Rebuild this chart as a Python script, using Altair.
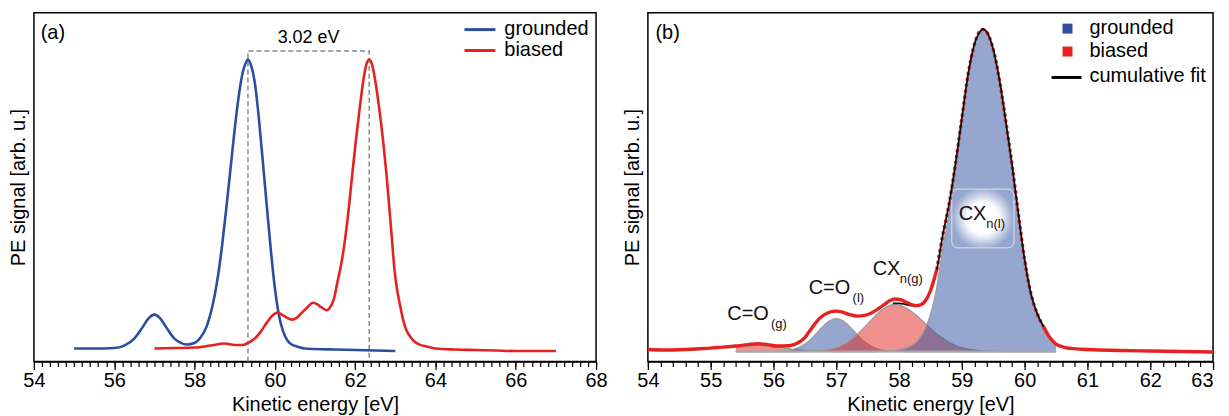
import altair as alt
import pandas as pd

BLUE = "#2b4f9e"
RED = "#e42320"
FONT = "Liberation Sans"

# ---------------- panel (a) data ----------------
ground_E = [55.0, 55.5, 56.0, 56.25, 56.5, 56.7, 56.85, 57.0, 57.15, 57.3, 57.5, 57.65, 57.8, 58.0, 58.15,
            58.3, 58.4, 58.5, 58.6, 58.7, 58.8, 58.9, 59.0, 59.1, 59.2, 59.27, 59.33, 59.4, 59.5, 59.6,
            59.7, 59.8, 59.9, 60.0, 60.1, 60.2, 60.3, 60.4, 60.55, 60.75, 61.0, 61.5, 62.0, 62.5, 63.0]
ground_S = [13, 13, 13.5, 16, 23, 34, 43, 47, 43, 34, 23, 19, 17, 18.5, 24,
            35, 48, 66, 90, 121, 157, 195, 233, 266, 290, 299, 303, 298, 280, 245,
            201, 156, 112, 74, 47, 31, 22, 17.5, 15, 13, 12.5, 12, 11.5, 11, 10.5]
bias_E = [57.0, 57.5, 58.0, 58.4, 58.75, 59.0, 59.2, 59.35, 59.5, 59.65, 59.8, 59.95, 60.06, 60.2, 60.3,
          60.43, 60.55, 60.65, 60.8, 60.95, 61.05, 61.15, 61.3, 61.4, 61.48, 61.55, 61.65, 61.75, 61.85, 61.92,
          62.02, 62.11, 62.2, 62.28, 62.35, 62.42, 62.5, 62.6, 62.7, 62.78, 62.85, 62.92, 62.98, 63.05, 63.12,
          63.2, 63.28, 63.37, 63.45, 63.6, 63.78, 64.0, 64.5, 65.0, 65.5, 66.0, 66.5, 67.0]
bias_S = [13, 13.5, 14, 16, 18, 16.5, 16.5, 19, 23, 30, 39, 46.5, 49, 46.5, 44,
          42, 44, 48, 54, 59, 57.5, 54.5, 51.5, 56, 64, 78, 97, 123, 157, 185,
          222, 253, 281, 298, 303, 298, 282, 254, 220, 188, 155, 121, 92, 71, 56,
          41, 31, 25, 21, 17, 15, 13, 12, 11.5, 11, 10.5, 10.5, 10.5]
peak_ground = 59.33
peak_biased = 62.35
shift_text = "3.02 eV"
shift_level = 311.5

# ---------------- panel (b) data ----------------
data_E = [54.0, 54.3, 54.6, 54.9, 55.1, 55.4, 55.6, 55.75, 55.9, 56.05, 56.25, 56.4, 56.5, 56.57, 56.65,
          56.73, 56.86, 56.99, 57.1, 57.2, 57.34, 57.45, 57.55, 57.65, 57.75, 57.85, 57.93, 58.02, 58.11, 58.2,
          58.27, 58.35, 58.42, 58.5, 58.6, 58.7, 58.8, 58.9, 59.0, 59.1, 59.2, 59.28, 59.33, 59.4, 59.5,
          59.6, 59.7, 59.8, 59.9, 60.0, 60.1, 60.2, 60.3, 60.4, 60.5, 60.65, 60.82, 61.0, 61.2, 61.5,
          62.0, 62.5, 63.0]
data_S = [12, 11.5, 12, 13, 14, 15.5, 17, 17.8, 17, 15.5, 15.8, 19, 24, 30, 37,
          43, 48.7, 50.5, 49.5, 47.3, 45.5, 46.2, 48.5, 52, 56.5, 61, 62.7, 62, 59.5, 57,
          56, 57, 61, 71, 92, 128, 159, 199, 244, 288, 318, 331, 333, 330, 313,
          282, 241, 197, 148, 102, 68, 48, 35, 24, 17.5, 14, 12.7, 12, 11.5, 11,
          10.5, 10, 9.5]

fit_E = [55.4, 55.5, 55.6, 55.7, 55.8, 55.9, 56.0, 56.1, 56.2, 56.3, 56.4, 56.5, 56.6, 56.7, 56.8, 56.9,
         57.0, 57.1, 57.2, 57.3, 57.4, 57.5, 57.6, 57.7, 57.8, 57.9, 58.0, 58.1, 58.2, 58.3, 58.4, 58.5,
         58.6, 58.7, 58.8, 58.9, 59.0, 59.1, 59.2, 59.3, 59.33,
         59.4, 59.5, 59.6, 59.7, 59.8, 59.9, 60.0, 60.1, 60.2, 60.3, 60.4, 60.5]
comp_CO_g = [4.1, 4.9, 5.6, 5.95, 5.95, 5.6, 4.9, 4.1, 3.2, 2.3, 1.6, 1.0, 0.6, 0.4, 0.2, 0.1,
             0, 0, 0, 0, 0, 0, 0, 0, 0, 0, 0, 0, 0, 0, 0, 0,
             0, 0, 0, 0, 0, 0, 0, 0, 0,
             0, 0, 0, 0, 0, 0, 0, 0, 0, 0, 0, 0]
comp_CO_l = [0, 0, 0, 0, 0, 0, 0.1, 0.3, 0.7, 1.8, 3.9, 7.5, 12.7, 19.3, 26.0, 31.1,
             33.0, 31.1, 26.0, 19.3, 12.7, 7.5, 3.9, 1.8, 0.7, 0.3, 0.1, 0, 0, 0, 0, 0,
             0, 0, 0, 0, 0, 0, 0, 0, 0,
             0, 0, 0, 0, 0, 0, 0, 0, 0, 0, 0, 0]
comp_CXn_g = [0, 0, 0, 0, 0, 0, 0, 0, 0, 0, 0, 0.1, 0.3, 0.6, 1.3, 2.3,
              4.0, 6.7, 10.4, 15.3, 21.2, 27.8, 34.5, 40.5, 44.8, 47.0, 46.5, 44.1, 40.1, 34.9, 29.1, 23.2,
              17.7, 13.0, 9.1, 6.1, 3.9, 2.4, 1.4, 0.8, 0.7,
              0.4, 0.2, 0.1, 0, 0, 0, 0, 0, 0, 0, 0, 0]
comp_CXn_l = [0, 0, 0, 0, 0, 0, 0, 0, 0, 0, 0, 0, 0, 0, 0, 0,
              0, 0, 0, 0, 0, 0, 0, 0.2, 0.5, 1.0, 1.8, 3.2, 6.0, 11, 21, 37,
              64, 105, 140, 183, 230, 276, 307, 321, 323,
              320, 303, 272, 231, 187, 138, 92, 58, 38, 25, 14, 7.5]
fit_base = 10

# annotation labels of panel (b): main text, subscript, positions (eV, signal)
lab_main = ["C=O", "C=O", "CX", "CX"]
lab_main_E = [55.265, 56.56, 57.58, 58.95]
lab_main_S = [48, 74, 93, 148]
lab_sub = ["(g)", "(l)", "n(g)", "n(l)"]
lab_sub_E = [55.96, 57.26, 58.01, 59.39]
lab_sub_S = [38, 64, 83, 138]
glow_box = {"E": [58.84], "E2": [59.83], "S": [114], "S2": [173]}

xa_major = [54, 56, 58, 60, 62, 64, 66, 68]
xb_major = [54, 55, 56, 57, 58, 59, 60, 61, 62, 63]
xa_minor = [round(54 + 0.2 * i, 1) for i in range(71)]
xb_minor = [round(54 + 0.2 * i, 1) for i in range(46)]

SA = alt.Scale(domain=[54, 68], nice=False, zero=False)
SB = alt.Scale(domain=[54, 63], nice=False, zero=False)


def major_axis(vals, last):
    return alt.Axis(values=vals, title="Kinetic energy [eV]", grid=False, tickSize=8,
                    format=".0f", labelOverlap=False, labelFlush=False, labelBound=False,
                    labelAlign={"condition": {"test": f"datum.value == {last}", "value": "right"},
                                "value": "center"},
                    orient="bottom")


def minor_axis(vals):
    return alt.Axis(values=vals, title=None, grid=False, tickSize=5, labels=False,
                    domain=False, orient="bottom")


yaxis = alt.Axis(title="PE signal [arb. u.]", labels=False, ticks=False, domain=False,
                 grid=False, titlePadding=5)

XA = alt.X("E:Q", scale=SA, axis=major_axis(xa_major, 99))
XB = alt.X("E:Q", scale=SB, axis=major_axis(xb_major, 63))
YS = alt.Y("S:Q", scale=alt.Scale(domain=[0, 350], nice=False, zero=False), axis=yaxis)

one = pd.DataFrame({"k": [0]})

# ---------------- panel (a) ----------------
df_g = pd.DataFrame({"E": ground_E, "S": ground_S})
df_b = pd.DataFrame({"E": bias_E, "S": bias_S})
df_dash = pd.DataFrame({"E": [peak_ground, peak_ground, peak_biased, peak_biased],
                        "S": [0, shift_level, shift_level, 0], "o": [0, 1, 2, 3]})
df_shift = pd.DataFrame({"E": [(peak_ground + peak_biased) / 2], "S": [shift_level + 13.5], "t": [shift_text]})
df_tag_a = pd.DataFrame({"E": [54.17], "S": [330], "t": ["(a)"]})

a_dash = alt.Chart(df_dash).mark_line(color="#8a8a8a", strokeDash=[5, 3], strokeWidth=1.5).encode(
    x=XA, y=YS, order="o:Q")
a_g = alt.Chart(df_g).mark_line(color=BLUE, strokeWidth=2.6, interpolate="monotone").encode(x=XA, y=YS)
a_b = alt.Chart(df_b).mark_line(color=RED, strokeWidth=2.6, interpolate="monotone").encode(x=XA, y=YS)
a_shift = alt.Chart(df_shift).mark_text(fontSize=18, font=FONT, color="black").encode(x=XA, y=YS, text="t:N")
a_tag = alt.Chart(df_tag_a).mark_text(fontSize=20, font=FONT, align="left", color="black").encode(
    x=XA, y=YS, text="t:N")

leg_a = []
for yy, col, name in [(17, BLUE, "grounded"), (38, RED, "biased")]:
    leg_a.append(alt.Chart(one).mark_rule(color=col, strokeWidth=3).encode(
        x=alt.value(432), x2=alt.value(463), y=alt.value(yy)))
    leg_a.append(alt.Chart(one).mark_text(fontSize=20, font=FONT, align="left", baseline="middle",
                                          color="black").encode(
        x=alt.value(472), y=alt.value(yy - 1), text=alt.value(name)))

a_minor = alt.Chart(pd.DataFrame({"E": xa_minor})).mark_point(opacity=0, size=1).encode(
    x=alt.X("E:Q", scale=SA, axis=minor_axis(xa_minor)), y=alt.value(200))

panel_a = alt.layer(
    alt.layer(a_dash, a_g, a_b, a_shift, a_tag, *leg_a), a_minor
).resolve_axis(x="independent").properties(width=564, height=350)

# ---------------- panel (b) ----------------
comps = [(comp_CO_g, RED), (comp_CO_l, BLUE), (comp_CXn_g, RED), (comp_CXn_l, BLUE)]
areas = []
for vals, col in comps:
    dfc = pd.DataFrame({"E": fit_E, "S": [fit_base + v for v in vals], "B": [fit_base] * len(fit_E)})
    areas.append(alt.Chart(dfc).mark_area(color=col, fillOpacity=0.5, interpolate="monotone",
                                          line={"color": "#9a9a9a", "strokeWidth": 1.2}).encode(
        x=XB, y=YS, y2="B:Q"))

fit_S = [fit_base + a + b + c + d for a, b, c, d in zip(comp_CO_g, comp_CO_l, comp_CXn_g, comp_CXn_l)]
df_fit = pd.DataFrame({"E": fit_E, "S": fit_S})
df_base = pd.DataFrame({"E": [fit_E[0], fit_E[-1]], "S": [fit_base, fit_base]})
df_data = pd.DataFrame({"E": data_E, "S": data_S})

b_base = alt.Chart(df_base).mark_line(color="#a8a8a8", strokeWidth=2).encode(x=XB, y=YS)
b_glow = alt.Chart(pd.DataFrame(glow_box)).mark_rect(
    cornerRadius=6, stroke="#dfe3ee", strokeWidth=1,
    fill={"gradient": "radial",
          "stops": [{"offset": 0, "color": "#ffffff"}, {"offset": 0.5, "color": "#ffffff"},
                    {"offset": 1, "color": "rgba(255,255,255,0)"}],
          "x1": 0.5, "y1": 0.5, "x2": 0.5, "y2": 0.5, "r1": 0, "r2": 0.5}).encode(
    x=XB, x2="E2:Q", y=YS, y2="S2:Q")
b_dashed = alt.Chart(df_data).transform_filter("datum.E >= 58.6 && datum.E <= 60.3").mark_line(
    color=RED, strokeWidth=3.4, strokeDash=[3, 3], interpolate="monotone").encode(x=XB, y=YS)
b_fit = alt.Chart(df_fit).transform_filter("datum.E >= 57.9").mark_line(
    color="#111111", strokeWidth=1.8, interpolate="monotone").encode(x=XB, y=YS)
b_left = alt.Chart(df_data).transform_filter("datum.E <= 58.6").mark_line(
    color=RED, strokeWidth=3.4, interpolate="monotone").encode(x=XB, y=YS)
b_right = alt.Chart(df_data).transform_filter("datum.E >= 60.3").mark_line(
    color=RED, strokeWidth=3.4, interpolate="monotone").encode(x=XB, y=YS)

df_main = pd.DataFrame({"E": lab_main_E, "S": lab_main_S, "t": lab_main})
df_sub = pd.DataFrame({"E": lab_sub_E, "S": lab_sub_S, "t": lab_sub})
b_main = alt.Chart(df_main).mark_text(fontSize=20, font=FONT, align="left", baseline="middle",
                                      color="#111111").encode(x=XB, y=YS, text="t:N")
b_sub = alt.Chart(df_sub).mark_text(fontSize=13, font=FONT, align="left", baseline="middle",
                                    color="#111111").encode(x=XB, y=YS, text="t:N")
df_tag_b = pd.DataFrame({"E": [54.12], "S": [330], "t": ["(b)"]})
b_tag = alt.Chart(df_tag_b).mark_text(fontSize=20, font=FONT, align="left", color="black").encode(
    x=XB, y=YS, text="t:N")

leg_b = []
for yy, col, name in [(16, BLUE, "grounded"), (39, RED, "biased")]:
    leg_b.append(alt.Chart(one).mark_square(color=col, size=100, opacity=1).encode(
        x=alt.value(421), y=alt.value(yy)))
    leg_b.append(alt.Chart(one).mark_text(fontSize=20, font=FONT, align="left", baseline="middle",
                                          color="black").encode(
        x=alt.value(443), y=alt.value(yy - 1), text=alt.value(name)))
leg_b.append(alt.Chart(one).mark_rule(color="black", strokeWidth=3).encode(
    x=alt.value(405), x2=alt.value(435), y=alt.value(65)))
leg_b.append(alt.Chart(one).mark_text(fontSize=20, font=FONT, align="left", baseline="middle",
                                      color="black").encode(
    x=alt.value(443), y=alt.value(64), text=alt.value("cumulative fit")))

b_minor = alt.Chart(pd.DataFrame({"E": xb_minor})).mark_point(opacity=0, size=1).encode(
    x=alt.X("E:Q", scale=SB, axis=minor_axis(xb_minor)), y=alt.value(200))

panel_b = alt.layer(
    alt.layer(*areas, b_base, b_glow, b_dashed, b_fit, b_left, b_right, b_main, b_sub, b_tag, *leg_b),
    b_minor
).resolve_axis(x="independent").properties(width=567, height=350)

chart = alt.hconcat(panel_a, panel_b, spacing=52, bounds="flush").properties(
    padding={"left": 0, "top": 3, "right": 0, "bottom": 0}
).configure_view(stroke="black", strokeWidth=1.5).configure_axis(
    domainColor="black", domainWidth=1.5, tickColor="black", tickWidth=1.2,
    labelFontSize=20, titleFontSize=20, labelColor="black", titleColor="black",
    titleFontWeight="normal", labelFont=FONT, titleFont=FONT, labelPadding=1, titlePadding=4
).configure_text(font=FONT)

chart.save("out.html", embed_options={"renderer": "svg", "actions": False})
